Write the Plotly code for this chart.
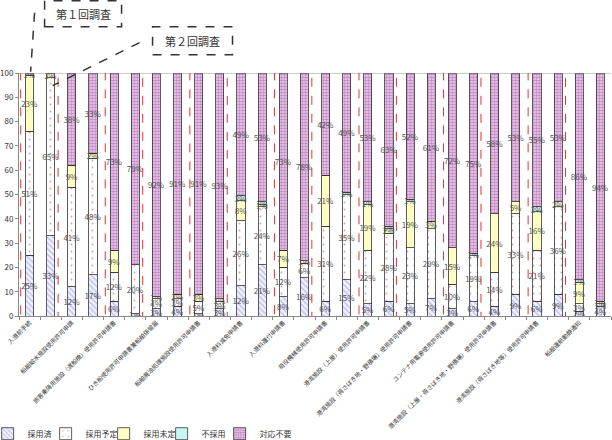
import plotly.graph_objects as go

# ---- data ----
categories = [
    "入港前手続",
    "船舶給水施設使用許可申請",
    "旅客乗降用施設（渡船橋）使用許可申請書",
    "ひき船使用許可申請書兼船舶係留届",
    "船舶廃油処理施設使用許可申請書",
    "入港料減免申請書",
    "入港料還付申請書",
    "荷役機械使用許可申請書",
    "港湾施設（上屋）使用許可申請書",
    "港湾施設（荷さばき地・野積場）使用許可申請書",
    "コンテナ用電源使用許可申請書",
    "港湾施設（上屋・荷さばき地・野積場）使用許可申請書",
    "港湾施設（荷さばき地等）使用許可申請書",
    "船舶運航動静通知",
]
# two bars per category: 第1回調査, 第2回調査
saiyozumi = [25, 33, 12, 17, 6, 1, 3, 4, 1, 3, 12, 21, 8, 16, 6, 15, 5, 6, 5, 7, 3, 6, 4, 9, 6, 9, 2, 4]
saiyo_yotei = [51, 65, 41, 48, 12, 20, 4, 3, 5, 3, 26, 24, 12, 6, 31, 35, 22, 28, 23, 29, 10, 19, 14, 33, 21, 36, 3, 1]
saiyo_mitei = [23, 2, 9, 2, 9, 0, 1, 2, 3, 1, 8, 1, 7, 1, 21, 0, 19, 2, 19, 3, 15, 0, 24, 5, 16, 2, 9, 1]
fusaiyo = [0, 0, 0, 0, 0, 0, 0, 0, 0, 0, 2, 1, 0, 0, 0, 1, 1, 1, 1, 0, 0, 1, 0, 0, 2, 0, 1, 0]
taio_fuyo = [1, 0, 38, 33, 73, 79, 92, 91, 91, 93, 49, 53, 73, 78, 42, 49, 53, 63, 52, 61, 72, 75, 58, 53, 55, 53, 86, 94]
series_names = ["採用済", "採用予定", "採用未定", "不採用", "対応不要"]
highlight_cats = [0, 2, 4, 6, 8, 10, 12]

FONT = "Noto Sans CJK JP"
xs = list(range(2 * len(categories)))

markers = [
    dict(color="#f2f2ff", line=dict(color="#333", width=0.8),
         pattern=dict(shape="\\", fgcolor="#7a7ae8", bgcolor="#f2f2ff", size=4, solidity=0.3)),
    dict(color="#ffffff", line=dict(color="#333", width=0.8),
         pattern=dict(shape=".", fgcolor="#b04848", bgcolor="#ffffff", size=7, solidity=0.06)),
    dict(color="#ffffc4", line=dict(color="#333", width=0.8)),
    dict(color="#c8f4f4", line=dict(color="#333", width=0.8)),
    dict(color="#d8a8d8", line=dict(color="#333", width=0.8),
         pattern=dict(shape=".", fgcolor="#973c97", bgcolor="#efd2ef", size=3, solidity=0.6)),
]

fig = go.Figure()
for name, vals, mk in zip(series_names,
                          [saiyozumi, saiyo_yotei, saiyo_mitei, fusaiyo, taio_fuyo],
                          markers):
    fig.add_bar(
        x=xs, y=vals, name=name, marker=mk,
        text=[f"{v}%" if v > 0 else "" for v in vals],
        textposition="inside", insidetextanchor="middle", textangle=0,
        constraintext="none",
        insidetextfont=dict(size=8, color="#555", family=FONT),
        hoverinfo="skip",
    )
# invisible spacer entry so the last legend label is not clipped
fig.add_bar(x=[0], y=[None], name="", hoverinfo="skip",
            marker=dict(color="rgba(0,0,0,0)", line=dict(width=0)))

# plot-area pixel geometry helpers (for callout boxes in paper coords)
L, R, T, B = 19.4, 611.6, 73.3, 316.3
def px(xp):
    return (xp - L) / (R - L)
def py(yp):
    return (B - yp) / (B - T)

shapes = []
# top 100% line
shapes.append(dict(type="line", xref="paper", yref="y", x0=0, x1=1, y0=100, y1=100,
                   line=dict(color="#999", width=1)))
# red dashed highlight boxes
for c in highlight_cats:
    shapes.append(dict(type="rect", xref="x", yref="y",
                       x0=2 * c - 0.42, x1=2 * c + 1.35, y0=-1.4, y1=100.9,
                       line=dict(color="#e83030", width=1, dash="dash")))
# callout boxes and leader lines
shapes.append(dict(type="rect", xref="paper", yref="paper",
                   x0=px(45), x1=px(122), y0=py(27), y1=py(1),
                   line=dict(color="#333", width=1.5, dash="dash")))
shapes.append(dict(type="rect", xref="paper", yref="paper",
                   x0=px(153), x1=px(233), y0=py(55), y1=py(27),
                   line=dict(color="#333", width=1.5, dash="dash")))
shapes.append(dict(type="line", xref="paper", yref="paper",
                   x0=px(35), y0=py(13), x1=px(31), y1=py(72),
                   line=dict(color="#333", width=1.5, dash="dash")))
shapes.append(dict(type="line", xref="paper", yref="paper",
                   x0=px(140), y0=py(43), x1=px(53), y1=py(86),
                   line=dict(color="#333", width=1.5, dash="dash")))

annotations = [
    dict(xref="paper", yref="paper", x=px(83.5), y=py(14), xanchor="center", yanchor="middle",
         text="第１回調査", showarrow=False, font=dict(size=11, color="#333", family=FONT)),
    dict(xref="paper", yref="paper", x=px(193), y=py(41), xanchor="center", yanchor="middle",
         text="第２回調査", showarrow=False, font=dict(size=11, color="#333", family=FONT)),
]

fig.update_layout(
    width=612, height=440,
    margin=dict(l=19, r=1, t=73, b=124, autoexpand=False),
    paper_bgcolor="white", plot_bgcolor="white",
    barmode="stack", barnorm="percent", bargap=0.62,
    font=dict(family=FONT, size=8, color="#333"),
    shapes=shapes, annotations=annotations,
    showlegend=True,
    legend=dict(orientation="h", x=px(-12), xanchor="left", y=py(434), yanchor="middle",
                traceorder="normal", itemwidth=30, entrywidth=13, entrywidthmode="pixels",
                font=dict(size=8, color="#333", family=FONT), bgcolor="rgba(0,0,0,0)",
                itemclick=False),
    xaxis=dict(range=[-0.5, len(xs) - 0.5], tickmode="array", automargin=False,
               tickvals=[2 * i for i in range(len(categories))], ticktext=categories,
               tickangle=-45, tickfont=dict(size=6, color="#333", family=FONT),
               showline=True, linecolor="#888", linewidth=1, ticks="", showgrid=False,
               zeroline=False,
               minor=dict(ticks="outside", tickvals=[i + 0.5 for i in range(-1, len(xs))],
                          ticklen=3, tickcolor="#888", showgrid=False)),
    yaxis=dict(range=[0, 100], tickvals=list(range(0, 101, 10)), ticksuffix="%",
               automargin=False,
               tickfont=dict(size=8, color="#333", family=FONT),
               showline=True, linecolor="#888", linewidth=1, ticks="outside", ticklen=3,
               tickcolor="#888", showgrid=False, zeroline=False),
)

fig.write_html("out.html")
